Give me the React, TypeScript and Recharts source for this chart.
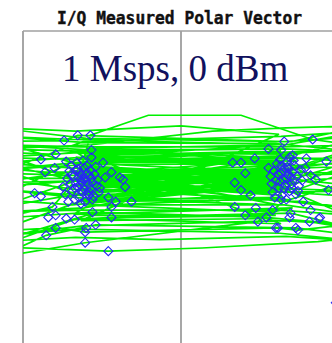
import React from 'react';
import { ScatterChart, Scatter, XAxis, YAxis, ReferenceLine } from 'recharts';

const chartTitle = 'I/Q Measured Polar Vector';
const annotation = '1 Msps, 0 dBm';

// Symbol decision points near I = -1
const leftSymbols: [number, number][] = [
  [-0.98, 0.51], [-0.86, 0.51], [-1.11, 0.46], [-1.19, 0.33], [-1.33, 0.28], [-0.85, 0.37],
  [-0.85, 0.30], [-1.29, 0.16], [-1.2, 0.2], [-1.09, 0.26], [-1.39, -0.04], [-1.33, -0.07],
  [-1.22, -0.17], [-1.26, -0.27], [-1.19, -0.25], [-1.19, -0.37], [-1.28, -0.44], [-1.09, -0.28],
  [-1.01, -0.29], [-0.91, -0.41], [-0.9, -0.37], [-0.81, -0.34], [-0.91, -0.51], [-0.69, -0.59],
  [-0.84, -0.22], [-0.66, -0.27], [-0.62, -0.12], [-0.47, -0.12], [-0.66, -0.17], [-0.53, 0.02],
  [-0.55, 0.09], [-0.58, 0.11], [-0.66, 0.16], [-0.72, 0.11], [-0.74, 0.25], [-0.77, 0.01],
  [-0.69, -0.08],
  [-1.02, 0.12], [-0.95, 0.08], [-0.9, 0.15], [-0.98, 0.02], [-0.88, 0.04], [-1.05, 0.05],
  [-0.93, -0.03], [-0.85, 0.1], [-1.0, 0.18], [-0.92, 0.2], [-0.82, 0.14], [-1.08, 0.1],
  [-0.97, -0.08], [-0.87, -0.06], [-1.03, -0.02], [-0.8, 0.03], [-0.94, 0.13], [-0.89, 0.22],
  [-1.1, -0.05], [-0.84, -0.1], [-0.99, 0.25], [-0.91, -0.12], [-1.06, 0.17], [-0.78, -0.03],
  [-0.96, 0.04], [-0.86, 0.18], [-1.01, -0.1], [-0.93, 0.27], [-0.81, 0.21], [-1.12, 0.02],
  [-0.88, -0.02], [-0.97, 0.11], [-0.9, 0.07], [-1.04, 0.22], [-0.83, -0.07], [-0.95, -0.14],
  [-1.07, -0.12], [-0.79, 0.09], [-0.92, 0.0], [-1.0, 0.06],
  [-0.96, 0.16], [-0.91, 0.1], [-0.87, 0.13], [-1.01, 0.01], [-0.94, 0.06], [-0.89, -0.04],
  [-0.98, 0.19], [-0.84, 0.06], [-0.93, 0.09], [-1.04, 0.13], [-0.95, -0.02], [-0.86, 0.0],
];

// Symbol decision points near I = +1
const rightSymbols: [number, number][] = [
  [1.25, 0.47], [0.98, 0.45], [0.83, 0.38], [0.95, 0.37], [1.06, 0.32], [1.19, 0.29],
  [0.7, 0.29], [0.49, 0.25], [0.57, 0.25], [0.61, 0.15], [0.51, 0.06], [0.51, -0.17],
  [0.61, -0.25], [0.66, -0.06], [0.71, -0.18], [0.73, -0.31], [0.9, -0.37], [1.03, -0.27],
  [1.11, -0.39], [1.22, -0.31], [1.32, -0.27], [1.23, -0.2], [1.16, -0.12], [1.28, 0.09],
  [1.23, 0.13], [1.18, 0.2], [1.04, -0.23], [0.87, -0.2], [0.81, -0.27], [0.95, -0.1],
  [1.38, 0.26], [1.4, -0.01], [1.31, -0.28], [1.09, -0.37], [0.92, -0.37], [0.57, -0.01],
  [1.47, -1.08],
  [1.0, 0.1], [0.95, 0.15], [1.05, 0.05], [0.9, 0.08], [1.1, 0.12], [0.98, 0.2],
  [1.03, -0.02], [0.88, 0.17], [1.08, 0.22], [0.93, 0.01], [1.12, 0.03], [0.85, 0.12],
  [1.01, 0.26], [0.96, -0.06], [1.06, 0.16], [0.91, 0.24], [1.14, 0.18], [0.99, 0.04],
  [0.87, -0.03], [1.04, 0.11], [0.94, 0.28], [1.09, -0.05], [0.83, 0.2], [1.02, 0.19],
  [0.97, 0.09], [1.15, 0.08], [0.89, -0.08], [1.07, 0.27], [0.92, 0.14], [1.0, -0.1],
  [0.95, 0.22], [1.11, -0.02], [0.86, 0.05], [1.03, 0.3], [0.98, 0.0],
  [1.02, 0.14], [0.97, 0.18], [1.07, 0.09], [1.01, 0.21], [0.94, 0.07], [1.05, 0.01],
];

// Measured I/Q trajectory (in time order)
const trace: [number, number][] = [
  [-1.75, 0.02], [-0.98, 0.08], [0.97, 0.14], [1.02, 0.05], [-0.93, -0.04], [-1.75, -0.18],
  [-0.88, 0.12], [1.05, 0.2], [1.75, 0.28], [1.0, 0.02], [-1.02, 0.15], [0.92, 0.22],
  [0.95, -0.06], [-0.9, 0.06], [-1.75, 0.25], [-1.05, 0.2], [1.08, 0.1], [1.75, -0.08],
  [0.88, -0.02], [-0.95, 0.18], [0.99, 0.16], [1.75, 0.4], [1.25, 0.47], [0.57, 0.7],
  [-0.31, 0.7], [-0.86, 0.51], [-0.97, 0.12], [0.9, 0.08], [-0.85, -0.08], [-1.75, -0.4],
  [-1.19, -0.37], [-0.91, -0.41], [0.9, -0.37], [1.11, -0.39], [1.75, -0.32], [1.03, -0.02],
  [-1.0, 0.03], [0.94, 0.12], [-0.92, 0.22], [-1.75, 0.45], [-1.11, 0.46], [-0.98, 0.51],
  [0.98, 0.45], [1.75, 0.5], [1.06, 0.32], [-0.95, 0.25], [0.96, 0.26], [1.04, 0.11],
  [-1.08, 0.1], [-1.75, 0.1], [-0.89, -0.02], [1.1, 0.06], [-0.93, -0.12], [0.87, -0.1],
  [1.75, -0.2], [1.16, -0.12], [-0.84, 0.0], [0.91, 0.18], [-0.99, 0.16], [-1.29, 0.16],
  [-1.75, 0.2], [-0.96, -0.06], [1.02, 0.24], [1.28, 0.09], [1.75, 0.12], [0.97, -0.12],
  [-0.9, 0.1], [0.93, 0.02], [-1.04, 0.04], [-1.22, -0.17], [-1.75, -0.28], [-0.84, -0.22],
  [0.81, -0.27], [1.22, -0.31], [1.75, -0.4], [1.04, -0.23], [-0.66, -0.27], [-1.01, -0.29],
  [-1.75, -0.55], [-0.69, -0.59], [0.2, -0.56], [1.3, -0.5], [1.75, -0.45], [1.09, -0.37],
  [-0.81, -0.34], [-1.28, -0.44], [-1.75, -0.65], [-0.91, -0.51], [0.73, -0.31], [1.0, -0.1],
  [-0.97, 0.0], [0.95, 0.3], [0.83, 0.38], [-0.85, 0.37], [-1.19, 0.33], [-1.75, 0.35],
  [-0.77, 0.01], [0.99, 0.1], [1.75, 0.02], [1.4, -0.01], [-0.92, 0.06], [0.89, 0.14],
  [-1.06, 0.17], [0.51, 0.06], [1.07, 0.18], [-0.94, -0.09], [0.92, -0.15], [-0.88, 0.2],
  [1.12, 0.0], [1.75, 0.22], [1.18, 0.2], [-0.55, 0.09], [-1.1, -0.05], [-1.75, 0.0],
  [-0.62, -0.12], [0.66, -0.06], [1.06, 0.15], [-1.01, 0.25], [0.94, 0.28], [-0.93, 0.14],
  [0.88, -0.05], [-0.82, 0.05], [0.7, 0.29], [1.19, 0.29], [1.75, 0.3], [1.01, 0.08],
  [-0.96, 0.21], [0.96, 0.04], [-1.03, -0.15], [-1.75, -0.1],
  [-0.95, 0.3], [0.0, 0.32], [1.0, 0.35], [1.75, 0.38], [0.93, 0.33], [-0.9, 0.35],
  [-1.75, 0.3], [-1.0, 0.28], [0.95, 0.27], [1.02, 0.33], [-0.98, 0.34], [-0.87, 0.27],
  [0.9, 0.31], [1.75, 0.25], [0.97, 0.22], [-1.0, 0.3], [0.0, 0.25], [1.05, 0.24],
  [-0.93, 0.23], [-1.75, 0.18], [-0.9, 0.26], [0.88, 0.36], [1.1, 0.26], [-1.05, 0.38],
  [-1.75, 0.42], [-0.95, 0.4], [0.96, 0.4], [1.75, 0.42], [1.0, 0.18], [-0.92, -0.18],
  [-1.75, -0.22], [-0.98, -0.2], [0.93, -0.2], [1.75, -0.26], [0.98, -0.15], [-0.9, -0.15],
  [0.86, -0.22], [1.06, -0.18], [-1.02, -0.24], [-0.88, -0.16], [0.97, -0.08], [-0.95, -0.1],
  [0.91, 0.05], [-1.0, 0.14], [0.95, 0.1], [-0.97, 0.05], [0.9, 0.16], [-0.94, 0.19],
  [1.03, 0.13], [1.75, 0.15], [1.0, 0.16], [-0.99, 0.11], [0.92, 0.09], [-0.91, 0.13],
  [1.07, 0.07], [-0.86, 0.08], [-1.75, 0.06], [-0.98, 0.17], [0.97, 0.19], [-0.9, 0.0],
  [0.94, -0.03], [1.75, -0.02], [1.05, 0.0], [-1.05, -0.06], [0.9, 0.2], [-0.95, 0.12],
  [0.99, 0.07], [-1.75, 0.15],
  [-0.93, 0.45], [0.95, 0.5], [1.75, 0.55], [1.0, 0.42], [-1.0, 0.47], [-1.75, 0.5],
  [-0.9, 0.44], [0.9, 0.43], [1.75, 0.35], [0.98, 0.38], [-0.96, 0.36], [-1.75, 0.38],
  [-0.85, 0.42], [0.3, 0.55], [1.0, 0.58], [1.75, 0.6], [1.05, 0.45], [-0.9, 0.48],
  [-1.75, 0.58], [-1.0, 0.55], [0.0, 0.6], [0.93, 0.52], [-0.95, -0.3], [0.92, -0.28],
  [1.75, -0.35], [0.97, -0.3], [-0.93, -0.35], [-1.75, -0.45], [-1.0, -0.38], [0.94, -0.42],
  [1.75, -0.5], [1.0, -0.45], [-0.2, -0.48], [-1.0, -0.46], [-1.75, -0.5], [-0.9, -0.25],
  [0.9, -0.25], [-0.97, -0.28], [0.95, -0.33], [-0.92, 0.32], [0.95, 0.36], [-0.96, 0.28],
  [1.0, 0.29], [-0.9, 0.38], [0.92, 0.42], [-1.75, 0.25],
];

const toPoints = (arr: [number, number][]) => arr.map(([i, q]) => ({ i, q }));
const tracePts = toPoints(trace);
const symbolPts = toPoints([...leftSymbols, ...rightSymbols]);

const Diamond = (props: any) => {
  const { cx, cy } = props;
  if (cx == null || cy == null) return <g />;
  const r = 4.5;
  return (
    <path
      d={`M${cx},${cy - r}L${cx + r},${cy}L${cx},${cy + r}L${cx - r},${cy}Z`}
      fill="none"
      stroke="#2828f4"
      strokeWidth={1.1}
    />
  );
};

const NoDot = () => <g />;

export default function App() {
  return (
    <div style={{ position: 'absolute', left: 0, top: 0, width: 332, height: 343, overflow: 'hidden', background: '#fff' }}>
      <ScatterChart width={345} height={350} margin={{ top: 31, right: 6, bottom: 3, left: 23 }}>
        <XAxis type="number" dataKey="i" domain={[-1.5, 1.5]} allowDataOverflow hide />
        <YAxis type="number" dataKey="q" domain={[-1.5, 1.5]} allowDataOverflow hide />
        <Scatter
          data={tracePts}
          line={{ stroke: '#00f000', strokeWidth: 1.7 }}
          shape={NoDot}
          isAnimationActive={false}
        />
        <Scatter data={symbolPts} shape={Diamond} isAnimationActive={false} />
        <ReferenceLine x={0} stroke="#8a8a8a" strokeWidth={1.5} />
        <ReferenceLine x={-1.5} stroke="#a6a6a6" strokeWidth={2} />
        <ReferenceLine y={1.5} stroke="#a0a0a0" strokeWidth={1.5} />
      </ScatterChart>
      <svg width={332} height={343} style={{ position: 'absolute', left: 0, top: 0, pointerEvents: 'none' }}>
        <text
          x={57}
          y={24}
          textLength={245}
          lengthAdjust="spacingAndGlyphs"
          fontFamily="'DejaVu Sans Mono', monospace"
          fontWeight="bold"
          fontSize={17}
          fill="#111"
          stroke="#111"
          strokeWidth={0.4}
        >
          {chartTitle}
        </text>
        <text x={62} y={81} fontFamily="'Liberation Serif', 'Times New Roman', serif" fontSize={37} fill="#11115e">
          {annotation}
        </text>
      </svg>
    </div>
  );
}
